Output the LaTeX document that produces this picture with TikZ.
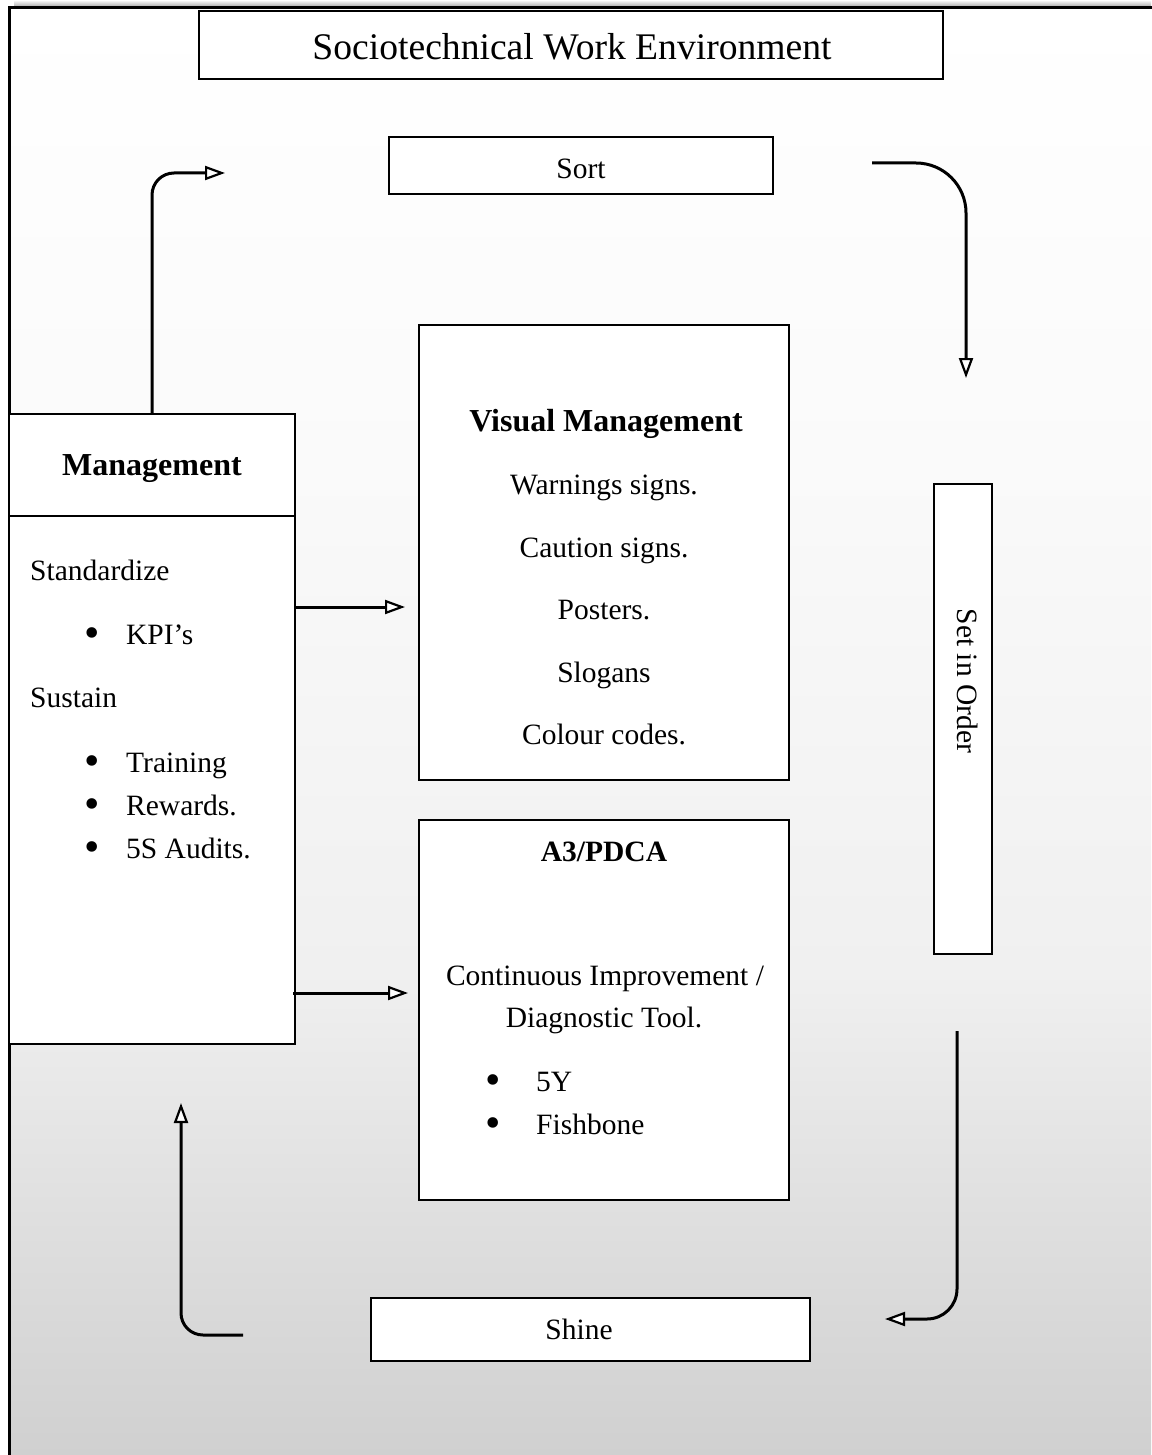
\documentclass[tikz,border=0pt]{standalone}
\usepackage{fontspec}
\setmainfont{Liberation Serif}
\usetikzlibrary{arrows.meta}
\definecolor{bgA}{gray}{0.816}
\definecolor{bgB}{gray}{0.871}
\definecolor{bgC}{gray}{0.941}
\definecolor{bgD}{gray}{0.98}
\pgfdeclareverticalshading{bgshade}{100bp}{color(0bp)=(bgA); color(25bp)=(bgA); color(32.73bp)=(bgB); color(41.67bp)=(bgC); color(58.85bp)=(bgD); color(75bp)=(white); color(100bp)=(white)}
\newcommand\bodyfont{\fontsize{29.5pt}{36pt}\selectfont}
\newcommand\headfont{\fontsize{32pt}{38pt}\selectfont\bfseries}
\newcommand\titlefont{\fontsize{37.6pt}{44pt}\selectfont}
\newcommand\bigbullet{\raisebox{-3.5pt}{\fontsize{44pt}{44pt}\selectfont\textbullet}}
\begin{document}
\begin{tikzpicture}[x=1pt,y=-1pt,
  boxnode/.style={draw, line width=2pt, fill=white, inner sep=0pt},
  txt/.style={inner sep=0pt, font=\bodyfont, text height=0.7em, text depth=0.22em},
  headtxt/.style={inner sep=0pt, font=\headfont, text height=0.7em, text depth=0.22em},
  arr/.style={line width=3pt, -{Triangle[length=20pt, width=14pt, fill=white, line width=2.2pt]}},
]
\useasboundingbox (0,0) rectangle (1151,1455);
% background
\fill[white] (0,0) rectangle (1151,1455);
\shade[shading=bgshade] (9,8) rectangle (1151,1455);
\shade[top color=white, bottom color=black!40] (14,0) rectangle (1151,8);
\draw[line width=3pt] (9,8) rectangle (1170,1475);

% boxes
\node[boxnode, minimum width=744pt, minimum height=68pt, line width=2.7pt] (title) at (571,45) {};
\node[inner sep=0pt, font=\titlefont, text height=0.7em, text depth=0.22em] (titletext) at (572,57) {Sociotechnical Work Environment};

\node[boxnode, minimum width=384pt, minimum height=57pt] (sort) at (581,165.5) {};
\node[txt] (sorttext) at (581,176) {Sort};

\node[boxnode, minimum width=370pt, minimum height=455pt] (visual) at (604,552.5) {};
\node[headtxt] (vmh) at (606,429) {Visual Management};
\node[txt] (vm1) at (604,492) {Warnings signs.};
\node[txt] (vm2) at (604,555) {Caution signs.};
\node[txt] (vm3) at (604,617) {Posters.};
\node[txt] (vm4) at (604,680) {Slogans};
\node[txt] (vm5) at (604,742) {Colour codes.};

\node[boxnode, minimum width=370pt, minimum height=380pt] (a3) at (604,1010) {};
\node[inner sep=0pt, font=\bodyfont\bfseries, text height=0.7em, text depth=0.22em] (a3h) at (604,859) {A3/PDCA};
\node[txt] (a31) at (605,983) {Continuous Improvement /};
\node[txt] (a32) at (604,1025) {Diagnostic Tool.};
\node[txt, anchor=west] (a3b1) at (485.3,1089) {\makebox[50.7pt][l]{\bigbullet}5Y};
\node[txt, anchor=west] (a3b2) at (485.3,1132) {\makebox[50.7pt][l]{\bigbullet}Fishbone};

\node[boxnode, minimum width=58pt, minimum height=470pt] (setorder) at (963,719) {};
\node[txt, rotate=-90] (settext) at (960,681) {Set in Order};

\node[boxnode, minimum width=286pt, minimum height=630pt] (mgmt) at (152,729) {};
\draw[line width=1.5pt] (mgmt.west |- 0,516) -- (mgmt.east |- 0,516);
\node[headtxt] (mgmth) at (152,473) {Management};
\node[txt, anchor=west] (m1) at (30,578) {Standardize};
\node[txt, anchor=west] (m2) at (84.3,642) {\makebox[41.7pt][l]{\bigbullet}KPI’s};
\node[txt, anchor=west] (m3) at (30,705) {Sustain};
\node[txt, anchor=west] (m4) at (84.3,770) {\makebox[41.7pt][l]{\bigbullet}Training};
\node[txt, anchor=west] (m5) at (84.3,813) {\makebox[41.7pt][l]{\bigbullet}Rewards.};
\node[txt, anchor=west] (m6) at (84.3,856) {\makebox[41.7pt][l]{\bigbullet}5S Audits.};

\node[boxnode, minimum width=439pt, minimum height=63pt] (shine) at (590.5,1329.5) {};
\node[txt] (shinetext) at (579,1337) {Shine};

% connector free ends
\coordinate (c1end) at (225,173);
\coordinate (c2start) at (872,163);
\coordinate (c2end) at (966,378);
\coordinate (c3start) at (957,1031);
\coordinate (c3end) at (885,1319);
\coordinate (c4start) at (243,1335);
\coordinate (c4end) at (181,1103);
\coordinate (vaIn) at (405,607);
\coordinate (a3In) at (408,993);

\draw[arr, rounded corners=22pt] (mgmt.north) |- (c1end);
\draw[arr, rounded corners=50pt] (c2start) -| (c2end);
\draw[arr, rounded corners=30pt] (c3start) |- (c3end);
\draw[arr, rounded corners=22pt] (c4start) -| (c4end);
\draw[arr] (mgmt.east |- vaIn) -- (vaIn);
\draw[arr] ([xshift=-3pt]mgmt.east |- a3In) -- (a3In);
\end{tikzpicture}
\end{document}
